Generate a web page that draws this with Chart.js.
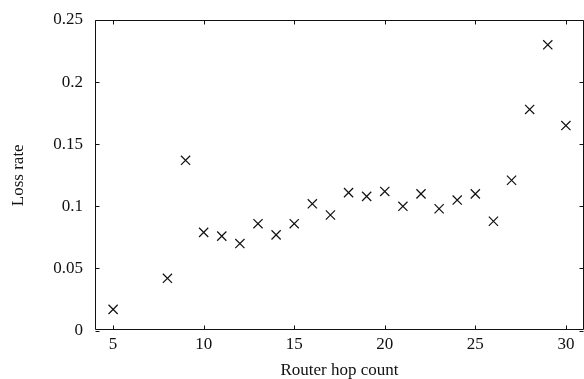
<!DOCTYPE html>
<html>
<head>
<meta charset="utf-8">
<script src="https://cdn.jsdelivr.net/npm/chart.js@4/dist/chart.umd.min.js"></script>
<style>
  html, body { margin: 0; padding: 0; background: #fff; }
  #wrap { width: 584px; height: 379px; }
</style>
</head>
<body>
<div id="wrap"><canvas id="chart" width="584" height="379"></canvas></div>
<script>
const hops = [5, 8, 9, 10, 11, 12, 13, 14, 15, 16, 17, 18, 19, 20, 21, 22, 23, 24, 25, 26, 27, 28, 29, 30];
const lossRate = [0.017, 0.042, 0.137, 0.079, 0.076, 0.070, 0.086, 0.077, 0.086, 0.102, 0.093, 0.111,
                  0.108, 0.112, 0.100, 0.110, 0.098, 0.105, 0.110, 0.088, 0.121, 0.178, 0.230, 0.165];
const xTicks = [5, 10, 15, 20, 25, 30];
const yTicks = [0, 0.05, 0.1, 0.15, 0.2, 0.25];

const ink = '#111';
const serif = 'Liberation Serif, Times New Roman, serif';

// box around the plot with short inward ticks on all four sides
const frame = {
  id: 'frame',
  afterDraw(chart) {
    const ctx = chart.ctx;
    const a = chart.chartArea;
    const x = chart.scales.x, y = chart.scales.y;
    const L = Math.floor(a.left) + 0.5, R = Math.ceil(a.right) - 0.5;
    const T = Math.floor(a.top) + 0.5, B = Math.floor(a.bottom) - 0.5;
    const len = 4;
    ctx.save();
    ctx.strokeStyle = ink;
    ctx.lineWidth = 1;
    ctx.beginPath();
    ctx.rect(L, T, R - L, B - T);
    xTicks.forEach(v => {
      const px = Math.round(x.getPixelForValue(v)) + 0.5;
      ctx.moveTo(px, B); ctx.lineTo(px, B - len);
      ctx.moveTo(px, T); ctx.lineTo(px, T + len);
    });
    yTicks.forEach(v => {
      const py = Math.round(y.getPixelForValue(v)) + 0.5;
      ctx.moveTo(L, py); ctx.lineTo(L + len, py);
      ctx.moveTo(R, py); ctx.lineTo(R - len, py);
    });
    ctx.stroke();
    ctx.restore();
  }
};

new Chart(document.getElementById('chart'), {
  type: 'scatter',
  data: {
    datasets: [{
      data: hops.map((h, i) => ({x: h, y: lossRate[i]})),
      pointStyle: 'crossRot',
      pointRadius: 6.5,
      pointHoverRadius: 6.5,
      borderColor: ink,
      backgroundColor: ink,
      pointBorderWidth: 1.2
    }]
  },
  options: {
    responsive: false,
    animation: false,
    events: [],
    layout: { autoPadding: false, padding: { top: 20, right: 0, left: 0, bottom: 0 } },
    plugins: { legend: { display: false }, tooltip: { enabled: false } },
    scales: {
      x: {
        type: 'linear',
        min: 4,
        max: 31,
        grid: { display: false, drawTicks: false },
        border: { display: false },
        afterBuildTicks: s => { s.ticks = xTicks.map(v => ({value: v})); },
        afterFit: s => { s.height = 48.5; s.paddingLeft = 0; s.paddingRight = 0; },
        ticks: {
          padding: 4,
          color: ink,
          font: { family: serif, size: 17 },
          callback: v => String(v)
        },
        title: {
          display: true,
          text: 'Router hop count',
          color: ink,
          font: { family: serif, size: 17, lineHeight: 1 },
          padding: { top: 0, bottom: 0 }
        }
      },
      y: {
        type: 'linear',
        min: 0,
        max: 0.25,
        grid: { display: false, drawTicks: false },
        border: { display: false },
        afterBuildTicks: s => { s.ticks = yTicks.map(v => ({value: v})); },
        afterFit: s => { s.width = 95; s.paddingTop = 0; s.paddingBottom = 0; },
        ticks: {
          padding: 12,
          color: ink,
          font: { family: serif, size: 17 },
          callback: v => String(v)
        },
        title: {
          display: true,
          text: 'Loss rate',
          color: ink,
          font: { family: serif, size: 17, lineHeight: 1 },
          padding: { top: 10, bottom: 0 }
        }
      }
    }
  },
  plugins: [frame]
});
</script>
</body>
</html>
